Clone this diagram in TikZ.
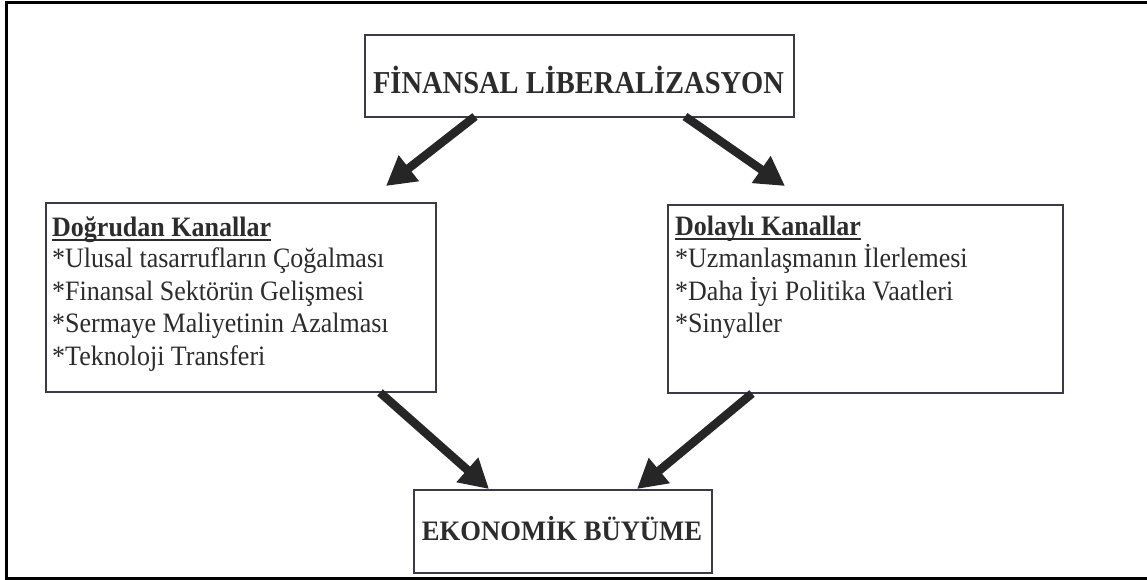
\documentclass[tikz,border=0pt]{standalone}
\usepackage{fontspec}
\setmainfont{Liberation Serif}
\usetikzlibrary{arrows.meta,calc}
\definecolor{ink}{HTML}{2C2C2C}
\definecolor{boxline}{HTML}{3A3A48}
\definecolor{arrowc}{HTML}{262626}
\begin{document}
\begin{tikzpicture}[x=1pt,y=-1pt,
  box/.style={draw=boxline,line width=1.5pt,rectangle,inner sep=0pt,anchor=north west},
  txt/.style={anchor=base west,inner sep=0pt,text=ink,font=\fontsize{26}{30}\selectfont},
  ttl/.style={anchor=base,inner sep=0pt,text=ink},
  uline/.style={draw=ink,line width=1.8pt},
  bigarrow/.style={draw=arrowc,line width=8.5pt,-{Triangle[length=29pt,width=31pt]}}
]
\useasboundingbox (0,0) rectangle (1147,579);
\fill[white] (0,0) rectangle (1147,579);
\draw[line width=3pt,black] (6,2.5) rectangle (1152,578);

% boxes
\node[box,minimum width=429pt,minimum height=82pt] (T) at (364,34) {};
\node[box,minimum width=390pt,minimum height=189pt] (L) at (45,202) {};
\node[box,minimum width=395pt,minimum height=188pt] (R) at (667,204) {};
\node[box,minimum width=298pt,minimum height=83pt] (B) at (413,489) {};

% titles
\node[ttl,font=\fontsize{28.5}{30}\selectfont\bfseries] (Tt) at (578.5,93) {\scalebox{1}[1.12]{FİNANSAL LİBERALİZASYON}};
\node[ttl,font=\fontsize{26.6}{30}\selectfont\bfseries] (Bt) at (562,540) {\scalebox{1}[1.06]{EKONOMİK BÜYÜME}};

% left list
\node[txt] (L0) at (52,236) {\scalebox{1}[1.08]{\textbf{Doğrudan Kanallar}}};
\node[txt] (L1) at (52,267.5) {\scalebox{1}[1.08]{*Ulusal tasarrufların Çoğalması}};
\node[txt] (L2) at (52,300) {\scalebox{1}[1.08]{*Finansal Sektörün Gelişmesi}};
\node[txt] (L3) at (52,332.5) {\scalebox{1}[1.08]{*Sermaye Maliyetinin Azalması}};
\node[txt] (L4) at (52,365) {\scalebox{1}[1.08]{*Teknoloji Transferi}};
\draw[uline] ($(L0.base west)+(0,4)$) -- ($(L0.base east)+(0,4)$);

% right list
\node[txt] (R0) at (675,235) {\scalebox{1}[1.08]{\textbf{Dolaylı Kanallar}}};
\node[txt] (R1) at (675,267.5) {\scalebox{1}[1.08]{*Uzmanlaşmanın İlerlemesi}};
\node[txt] (R2) at (675,300) {\scalebox{1}[1.08]{*Daha İyi Politika Vaatleri}};
\node[txt] (R3) at (675,332.5) {\scalebox{1}[1.08]{*Sinyaller}};
\draw[uline] ($(R0.base west)+(0,4)$) -- ($(R0.base east)+(0,4)$);

% arrow ends
\coordinate (a1s) at ($(T.south west)+(111,-1)$);
\coordinate (a1e) at ($(L.north west)+(341,-16)$);
\coordinate (a2s) at ($(T.south west)+(321,-1)$);
\coordinate (a2e) at ($(R.north west)+(118,-18)$);
\coordinate (a3s) at ($(L.south west)+(335,0)$);
\coordinate (a3e) at ($(B.north west)+(76,0)$);
\coordinate (a4s) at ($(R.south west)+(85,0)$);
\coordinate (a4e) at ($(B.north west)+(224,0)$);

\draw[bigarrow] (a1s) -- (a1e);
\draw[bigarrow] (a2s) -- (a2e);
\draw[bigarrow] (a3s) -- (a3e);
\draw[bigarrow] (a4s) -- (a4e);
\end{tikzpicture}
\end{document}
